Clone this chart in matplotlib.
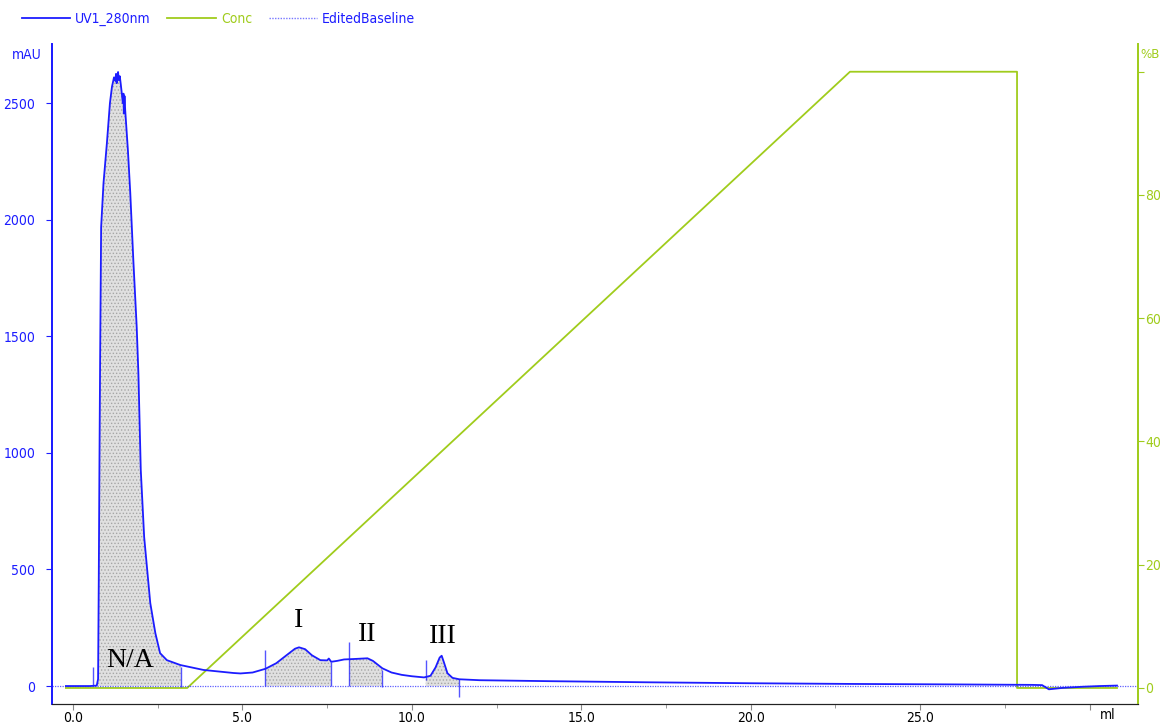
import matplotlib.pyplot as plt
import numpy as np

plt.rcParams['font.family'] = ['DejaVu Sans']
plt.rcParams['font.stretch'] = 'condensed'
plt.rcParams['hatch.linewidth'] = 0.6

BLUE = '#1c1cff'
GREEN = '#a0cc1c'

# UV trace at 280 nm (ml, mAU)
uv_ml = [-0.21, 0.5, 0.70, 0.74, 0.76, 0.78, 0.80, 0.83, 0.90, 1.00, 1.09, 1.15, 1.21,
         1.25, 1.27, 1.29, 1.31, 1.33, 1.35, 1.38, 1.41, 1.44, 1.47, 1.49, 1.50, 1.52,
         1.54, 1.62, 1.69, 1.78, 1.88, 1.93, 2.00, 2.10, 2.28, 2.43, 2.57, 2.77, 3.17,
         3.85, 4.73, 4.94, 5.3, 5.68, 6.0, 6.3, 6.55, 6.67, 6.85, 7.05, 7.3, 7.5, 7.55,
         7.62, 7.8, 8.0, 8.3, 8.69, 8.85, 9.13, 9.4, 9.7, 10.0, 10.36, 10.55, 10.7,
         10.82, 10.88, 10.95, 11.05, 11.2, 11.4, 12.0, 14.0, 17.0, 20.0, 23.0, 26.0,
         28.3, 28.6, 28.8, 29.2, 29.8, 30.3, 30.81]
uv_mau = [0, 0, 2, 30, 450, 950, 1398, 1968, 2157, 2328, 2500, 2570, 2610,
          2595, 2625, 2585, 2612, 2633, 2598, 2615, 2580, 2541, 2500, 2540, 2455, 2530,
          2470, 2298, 2114, 1827, 1539, 1340, 926, 639, 356, 227, 141, 111, 90,
          69, 56, 54, 58, 74, 98, 132, 160, 166, 158, 132, 111, 110, 118,
          104, 108, 114, 116, 119, 108, 76, 58, 48, 42, 37, 44, 80,
          122, 130, 100, 55, 35, 29, 25, 21, 16, 12, 9, 7,
          5, 4, -14, -8, -3, 0, 2]

# Gradient (%B)
conc_ml = [-0.21, 3.37, 22.93, 27.86, 27.86, 30.81]
conc_pct = [0, 0, 100, 100, 0, 0]

# integrated peaks: start, end, label, label position
peak_start = [0.70, 5.68, 8.15, 10.41]
peak_end = [3.19, 7.62, 9.13, 11.40]
peak_names = ['N/A', 'I', 'II', 'III']
name_ml = [1.69, 6.66, 8.67, 10.92]
name_mau = [110, 283, 219, 214]

# peak limit markers (ml, bottom mAU, top mAU)
mark_ml = [0.58, 3.19, 5.68, 7.62, 8.15, 9.13, 10.41, 11.40]
mark_lo = [0, -5, 0, 0, 0, -5, 26, -48]
mark_hi = [82, 82, 154, 104, 189, 69, 111, 29]

fig = plt.figure(figsize=(11.6, 7.24), dpi=100)
ax = fig.add_axes([52/1160, 1 - 704/724, (1138 - 52)/1160, (704 - 44)/724])
ax2 = ax.twinx()

x = np.array(uv_ml)
y = np.array(uv_mau)
for s, e in zip(peak_start, peak_end):
    xs = np.linspace(s, e, 300)
    ys = np.interp(xs, x, y)
    ax.fill_between(xs, 0, ys, facecolor='#e0e0e0', edgecolor='#a6a6a6',
                    hatch='.....', linewidth=0, zorder=1)

ax.axhline(0, color=BLUE, lw=0.9, ls=(0, (1, 1)), alpha=0.7, zorder=2)
ax.vlines(mark_ml, mark_lo, mark_hi, color=BLUE, lw=1.0, alpha=0.75, zorder=3)
ax2.plot(conc_ml, conc_pct, color=GREEN, lw=1.3, zorder=2)
ax.plot(uv_ml, uv_mau, color=BLUE, lw=1.3, zorder=4)

for name, xm, ym in zip(peak_names, name_ml, name_mau):
    ax.text(xm, ym, name, ha='center', va='center', fontsize=20, fontstretch='normal',
            family=['Liberation Serif', 'DejaVu Serif'], zorder=5)

ax.set_zorder(ax2.get_zorder() + 1)
ax.patch.set_visible(False)

ax.set_xlim(-0.62, 31.43)
ax.set_ylim(-77, 2753)
ax2.set_ylim(-2.6, 104.5)

ax.set_xticks([0, 5, 10, 15, 20, 25, 30])
ax.set_xticklabels(['0.0', '5.0', '10.0', '15.0', '20.0', '25.0', ''])
ax.set_xticks(np.arange(2.5, 30, 5), minor=True)
ax.set_yticks([0, 500, 1000, 1500, 2000, 2500])
ax2.set_yticks([0, 20, 40, 60, 80, 100])
ax2.set_yticklabels(['0', '20', '40', '60', '80', ''])

ax.tick_params(axis='x', length=4, width=0.8, color='#888888', labelsize=10, pad=1)
ax.tick_params(axis='x', which='minor', length=3, color='#888888')
ax.tick_params(axis='y', length=4, colors=BLUE, labelsize=10, pad=8)
ax2.tick_params(axis='y', length=4, colors=GREEN, labelsize=10, pad=1)

for a in (ax, ax2):
    a.spines['top'].set_visible(False)
    a.spines['left'].set_color(BLUE)
    a.spines['right'].set_color(GREEN)
    a.spines['bottom'].set_color('#222222')
    a.spines['left'].set_linewidth(1.3)
    a.spines['right'].set_linewidth(1.3)

fig.text(12/1160, 1 - 55/724, 'mAU', color=BLUE, fontsize=10, va='center')
fig.text(1140/1160, 1 - 55/724, '%B', color=GREEN, fontsize=9.5, va='center')
fig.text(1108/1160, 1 - 715/724, 'ml', color='black', fontsize=10, va='center', ha='center')

h1, = ax.plot([], [], color=BLUE, lw=1.3)
h2, = ax.plot([], [], color=GREEN, lw=1.3)
h3, = ax.plot([], [], color=BLUE, lw=1.0, ls=(0, (1, 1)), alpha=0.6)
leg = fig.legend([h1, h2, h3], ['UV1_280nm', 'Conc', 'EditedBaseline'],
                 loc='upper left', bbox_to_anchor=(16/1160, 1 - 6/724), ncol=3,
                 frameon=False, fontsize=10, handlelength=3.5, handletextpad=0.35,
                 columnspacing=1.2, borderaxespad=0)
for t, c in zip(leg.get_texts(), [BLUE, GREEN, BLUE]):
    t.set_color(c)

fig.savefig('out.png', dpi=100)
